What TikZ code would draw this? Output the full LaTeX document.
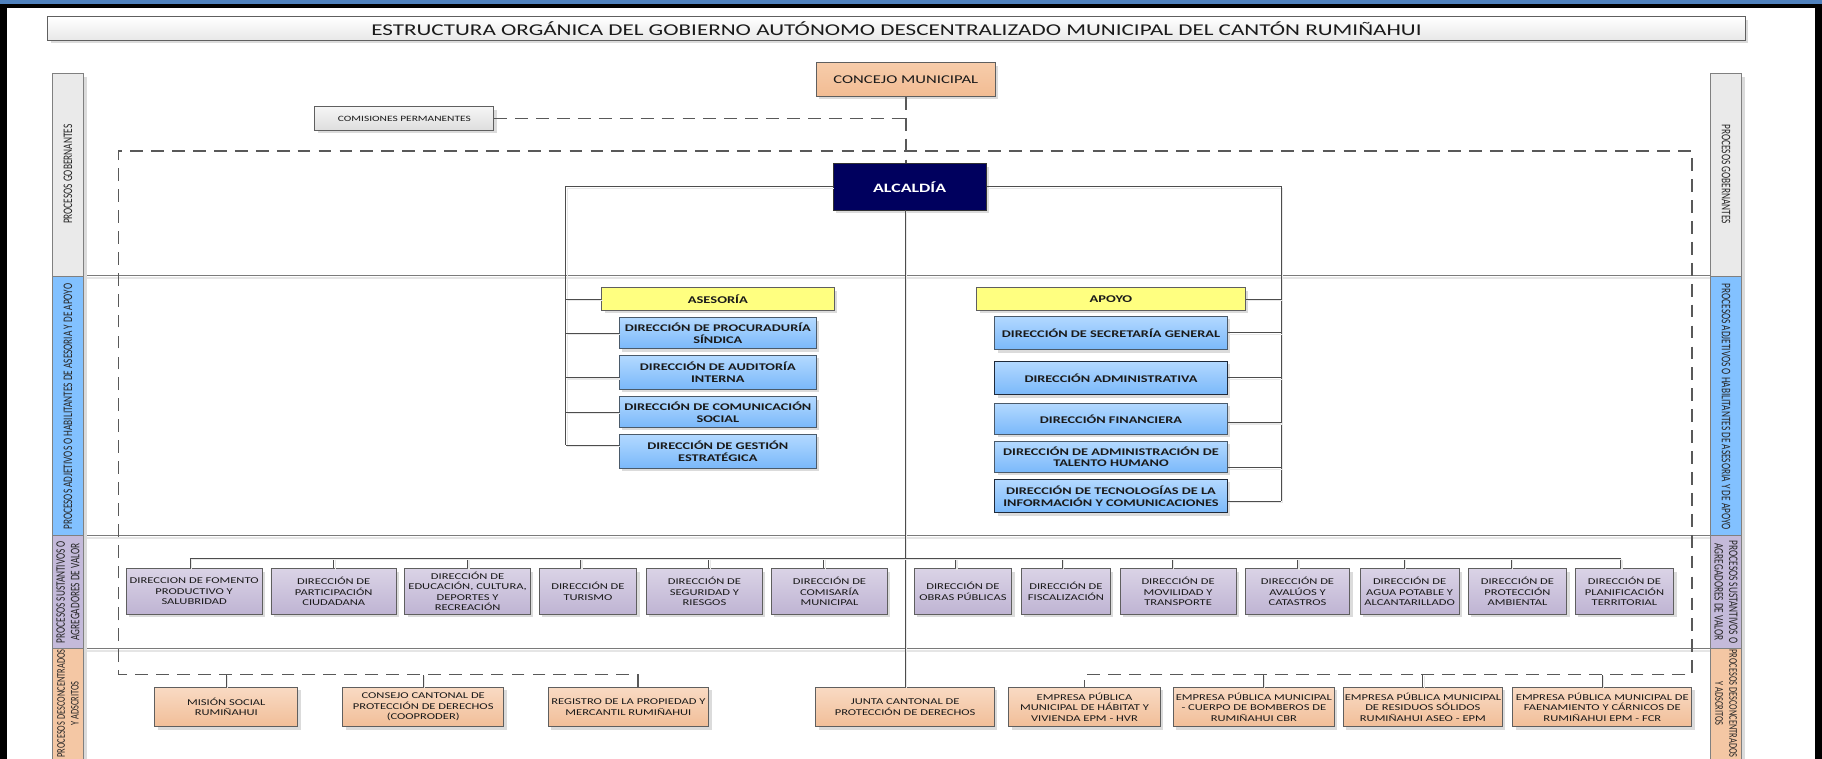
\documentclass[tikz,border=0pt]{standalone}
\usepackage{fontspec}
\setmainfont{Carlito}
\newfontfamily\hf[FakeStretch=1.4]{Carlito}
\newfontfamily\vf[FakeStretch=0.714]{Carlito}
\usetikzlibrary{shadows}
\definecolor{topblue}{HTML}{4F81BD}
\definecolor{lncol}{HTML}{4D4D4D}
\definecolor{txt}{HTML}{1A1A1A}
\definecolor{bxline}{HTML}{5F5F5F}
\definecolor{navy}{HTML}{00005E}
\definecolor{ylw}{HTML}{FFFF80}
\definecolor{blueT}{HTML}{B3D9FF}
\definecolor{blueB}{HTML}{7AB8FA}
\definecolor{bluebd}{HTML}{4A5A6A}
\definecolor{bluedk}{HTML}{1F2A3A}
\definecolor{purT}{HTML}{DAD3E6}
\definecolor{purB}{HTML}{BFB4D3}
\definecolor{orT}{HTML}{F9DAC3}
\definecolor{orB}{HTML}{F1BE98}
\definecolor{conT}{HTML}{F7CCAA}
\definecolor{conB}{HTML}{F2BC93}
\definecolor{sgray}{HTML}{EAEAEA}
\definecolor{sblue}{HTML}{82C1FF}
\definecolor{spur}{HTML}{C4BADA}
\definecolor{sor}{HTML}{F4C7A4}
\begin{document}
\begin{tikzpicture}[x=1pt,y=-1pt,
  shd/.style={drop shadow={shadow xshift=2.5pt,shadow yshift=-2.5pt,fill=black!14,opacity=1}},
  sz/.style 2 args={minimum width=#1pt,minimum height=#2pt},
  bx/.style={shd,draw=bxline,line width=0.8pt,inner sep=0.5pt,align=center,text=txt},
  bluebox/.style={bx,top color=blueT,bottom color=blueB,draw=bluebd,font=\hf\bfseries\fontsize{8.8}{10}\selectfont},
  purbox/.style={bx,top color=purT,bottom color=purB,font=\hf\fontsize{7.7}{9}\selectfont},
  orbox/.style={bx,top color=orT,bottom color=orB,font=\hf\fontsize{7.7}{9}\selectfont},
  ylwbox/.style={bx,fill=ylw,font=\hf\bfseries\fontsize{8.9}{10}\selectfont},
  vlab/.style={align=center,text=black!85,font=\vf\fontsize{11.2}{12.5}\selectfont,inner sep=0pt},
  vlabs/.style={vlab,font=\vf\fontsize{10.1}{12}\selectfont},
  sbar/.style={shd,draw=black!50,line width=0.8pt},
  conn/.style={draw=lncol,line width=0.8pt,preaction={draw=black!9,line width=1.1pt,transform canvas={xshift=1.3pt,yshift=-1.3pt}}},
  lane/.style={draw=black!52,line width=0.9pt,preaction={draw=black!10,line width=1.5pt,transform canvas={yshift=-2pt}}},
  dframe/.style={draw=black!65,line width=1.6pt,dash pattern=on 11pt off 7pt}]
\useasboundingbox (0,0) rectangle (1568,653);
\clip (0,0) rectangle (1568,653);
\fill[white] (0,0) rectangle (1568,653);
\fill[topblue] (0,0) rectangle (1568,3.6);
\fill[black] (0,3.6) rectangle (1568,6.6);
\fill[black] (0,3.6) rectangle (6,653);
\fill[black] (1562,3.6) rectangle (1568,653);

% lanes
\foreach \yy in {237.5,461,558} {\draw[lane] (72,\yy) -- (1472,\yy);}

% side bars
\foreach \xx in {45,1472} {
  \filldraw[sbar,fill=sgray] (\xx,63.5) rectangle ++(27,174);
  \filldraw[sbar,fill=sblue] (\xx,237.5) rectangle ++(27,223.5);
  \filldraw[sbar,fill=spur] (\xx,461) rectangle ++(27,97);
  \filldraw[sbar,fill=sor] (\xx,558) rectangle ++(27,110);
}
\node[vlab,rotate=90] (lg) at (58.5,150) {PROCESOS GOBERNANTES};
\node[vlab,rotate=90] (la) at (58.5,350) {PROCESOS ADJETIVOS O HABILITANTES DE ASESORIA Y DE APOYO};
\node[vlab,rotate=90] (ls) at (58.5,509.5) {PROCESOS SUSTANTIVOS O\\AGREGADORES DE VALOR};
\node[vlabs,rotate=90] (ld) at (58.5,605.5) {PROCESOS DESCONCENTRADOS\\Y ADSCRITOS};
\node[vlab,rotate=-90] (rg) at (1485.5,150) {PROCESOS GOBERNANTES};
\node[vlab,rotate=-90] (ra) at (1485.5,350) {PROCESOS ADJETIVOS O HABILITANTES DE ASESORIA Y DE APOYO};
\node[vlab,rotate=-90] (rs) at (1485.5,509.5) {PROCESOS SUSTANTIVOS O\\AGREGADORES DE VALOR};
\node[vlabs,rotate=-90] (rd) at (1485.5,605.5) {PROCESOS DESCONCENTRADOS\\Y ADSCRITOS};

% top nodes
\node[bx,sz={1461}{20},top color=white,bottom color=black!9,font=\hf\fontsize{14.2}{16}\selectfont] (title) at (771.5,24.5) {ESTRUCTURA ORGÁNICA DEL GOBIERNO AUTÓNOMO DESCENTRALIZADO MUNICIPAL DEL CANTÓN RUMIÑAHUI};
\node[bx,sz={154}{29},top color=conT,bottom color=conB,font=\hf\fontsize{10.25}{12}\selectfont] (conc) at (779.5,68.5) {CONCEJO MUNICIPAL};
\node[bx,sz={154}{20},top color=black!4,bottom color=black!13,font=\hf\fontsize{7}{8}\selectfont] (com) at (348,102) {COMISIONES PERMANENTES};
\node[bx,sz={131.6}{39.7},fill=navy,draw=black!80,text=white,font=\hf\bfseries\fontsize{11}{13}\selectfont] (alc) at (782.8,160.85) {ALCALDÍA};

% asesoria / apoyo
\node[ylwbox,sz={199.9}{19.4}] (ases) at (617.75,257.3) {ASESORÍA};
\node[ylwbox,sz={231.2}{19.4}] (apo) at (956.1,257.3) {APOYO};
\node[bluebox,sz={169.5}{26.6}] (proc) at (617.75,286.7) {DIRECCIÓN DE PROCURADURÍA\\SÍNDICA};
\node[bluebox,sz={169.5}{29}] (aud) at (617.75,320.5) {DIRECCIÓN DE AUDITORÍA\\INTERNA};
\node[bluebox,sz={169.5}{26.3}] (comu) at (617.75,354.55) {DIRECCIÓN DE COMUNICACIÓN\\SOCIAL};
\node[bluebox,sz={169.5}{29}] (gest) at (617.75,388.3) {DIRECCIÓN DE GESTIÓN\\ESTRATÉGICA};
\node[bluebox,sz={200.2}{29}] (secr) at (956.1,286.5) {DIRECCIÓN DE SECRETARÍA GENERAL};
\node[bluebox,sz={200.2}{29},draw=bluedk] (adm) at (956.1,325.2) {DIRECCIÓN ADMINISTRATIVA};
\node[bluebox,sz={200.2}{26.8}] (fin) at (956.1,360.4) {DIRECCIÓN FINANCIERA};
\node[bluebox,sz={200.2}{26.7}] (tal) at (956.1,393.15) {DIRECCIÓN DE ADMINISTRACIÓN DE\\TALENTO HUMANO};
\node[bluebox,sz={200.2}{28.7},draw=bluedk] (tec) at (956.1,426.85) {DIRECCIÓN DE TECNOLOGÍAS DE LA\\INFORMACIÓN Y COMUNICACIONES};

% sustantivos
\node[purbox,sz={117}{39}] (p1) at (167.1,509) {DIRECCION DE FOMENTO\\PRODUCTIVO Y\\SALUBRIDAD};
\node[purbox,sz={108}{39}] (p2) at (287.2,509) {DIRECCIÓN DE\\PARTICIPACIÓN\\CIUDADANA};
\node[purbox,sz={108}{39}] (p3) at (402.4,509) {DIRECCIÓN DE\\EDUCACIÓN, CULTURA,\\DEPORTES Y\\RECREACIÓN};
\node[purbox,sz={84}{39}] (p4) at (506,509) {DIRECCIÓN DE\\TURISMO};
\node[purbox,sz={99.9}{39}] (p5) at (606.25,509) {DIRECCIÓN DE\\SEGURIDAD Y\\RIESGOS};
\node[purbox,sz={99.9}{39}] (p6) at (713.85,509) {DIRECCIÓN DE\\COMISARÍA\\MUNICIPAL};
\node[purbox,sz={84.2}{39}] (p7) at (828.7,509) {DIRECCIÓN DE\\OBRAS PÚBLICAS};
\node[purbox,sz={76.7}{39}] (p8) at (917.35,509) {DIRECCIÓN DE\\FISCALIZACIÓN};
\node[purbox,sz={99.7}{39}] (p9) at (1013.85,509) {DIRECCIÓN DE\\MOVILIDAD Y\\TRANSPORTE};
\node[purbox,sz={90.2}{39}] (p10) at (1116.6,509) {DIRECCIÓN DE\\AVALÚOS Y\\CATASTROS};
\node[purbox,sz={85.4}{39}] (p11) at (1213.1,509) {DIRECCIÓN DE\\AGUA POTABLE Y\\ALCANTARILLADO};
\node[purbox,sz={84.6}{39}] (p12) at (1305.9,509) {DIRECCIÓN DE\\PROTECCIÓN\\AMBIENTAL};
\node[purbox,sz={85}{39}] (p13) at (1398,509) {DIRECCIÓN DE\\PLANIFICACIÓN\\TERRITORIAL};

% desconcentrados
\node[orbox,sz={122.9}{33.9}] (mis) at (194.75,608.45) {MISIÓN SOCIAL\\RUMIÑAHUI};
\node[orbox,sz={138.6}{33.9}] (cons) at (364.2,608.45) {CONSEJO CANTONAL DE\\PROTECCIÓN DE DERECHOS\\(COOPRODER)};
\node[orbox,sz={138.2}{33.9}] (reg) at (540.8,608.45) {REGISTRO DE LA PROPIEDAD Y\\MERCANTIL RUMIÑAHUI};
\node[orbox,sz={153.7}{33.9}] (junta) at (778.95,608.45) {JUNTA CANTONAL DE\\PROTECCIÓN DE DERECHOS};
\node[orbox,sz={130.4}{33.9}] (hvr) at (933.3,608.45) {EMPRESA PÚBLICA\\MUNICIPAL DE HÁBITAT Y\\VIVIENDA EPM - HVR};
\node[orbox,sz={138.3}{33.9}] (bomb) at (1079.05,608.45) {EMPRESA PÚBLICA MUNICIPAL\\- CUERPO DE BOMBEROS DE\\RUMIÑAHUI CBR};
\node[orbox,sz={136.8}{33.9}] (aseo) at (1224.5,608.45) {EMPRESA PÚBLICA MUNICIPAL\\DE RESIDUOS SÓLIDOS\\RUMIÑAHUI ASEO - EPM};
\node[orbox,sz={154.1}{33.9}] (fcr) at (1378.95,608.45) {EMPRESA PÚBLICA MUNICIPAL DE\\FAENAMIENTO Y CÁRNICOS DE\\RUMIÑAHUI EPM - FCR};

% dashed frame and governing links
\coordinate (fTL) at (102,130);
\coordinate (fTR) at (1456,130);
\coordinate (fBL) at (102,580.5);
\coordinate (fBR) at (1456,580.5);
\draw[dframe] (conc.south) -- (conc.south |- alc.north);
\draw[dframe] (com.east) -- (com.east -| conc.south);
\path ([xshift=7.9pt]reg.north) coordinate (regc);
\draw[dframe] (regc) |- (fBL) -- (fTL) -- (fTR) -- (fBR) -| (hvr.north);

% alcaldia branches
\coordinate (lb) at (486.8,383.2);
\coordinate (rb) at (1102.4,431.2);
\draw[conn] (alc.west) -| (lb);
\draw[conn] (alc.east) -| (rb);
\draw[conn] (ases.west) -- (ases.west -| lb);
\draw[conn] (proc.west) -- (proc.west -| lb);
\path ([yshift=-4.4pt]aud.west) coordinate (audb);
\draw[conn] (audb) -- (audb -| lb);
\draw[conn] (comu.west) -- (comu.west -| lb);
\path ([yshift=5.1pt]gest.west) coordinate (gestb);
\draw[conn] (gestb) -- (gestb -| lb);
\draw[conn] (apo.east) -- (apo.east -| rb);
\draw[conn] (secr.east) -- (secr.east -| rb);
\draw[conn] (adm.east) -- (adm.east -| rb);
\path ([yshift=-3.3pt]fin.east) coordinate (finb);
\draw[conn] (finb) -- (finb -| rb);
\path ([yshift=-9.35pt]tal.east) coordinate (talb);
\draw[conn] (talb) -- (talb -| rb);
\path ([yshift=-4.35pt]tec.east) coordinate (tecb);
\draw[conn] (tecb) -- (tecb -| rb);
\draw[conn] (junta.north |- alc.south) -- (junta.north);

% sustantivos bus
\coordinate (busL) at (0,480.5);
\foreach \n/\dx in {p1/-3.6,p2/0,p3/0,p4/-6.4,p5/3.65,p6/-4.85,p7/-6.5,p8/-3.25,p9/-5.25,p10/0,p11/-4.6,p12/-5.4,p13/-3.5} {
  \path ([xshift=\dx pt]\n.north) coordinate (t\n);
  \draw[conn] (t\n) -- (t\n |- busL);
}
\draw[conn] (tp1 |- busL) -- (tp13 |- busL);

% desconcentrados ticks
\draw[conn] (mis.north) -- (mis.north |- fBL);
\draw[conn] (cons.north) -- (cons.north |- fBL);
\path ([xshift=7.9pt]bomb.north) coordinate (bombc);
\draw[conn] (bombc) -- (bombc |- fBL);
\draw[conn] (aseo.north) -- (aseo.north |- fBL);
\draw[conn] (fcr.north) -- (fcr.north |- fBL);
\end{tikzpicture}
\end{document}
